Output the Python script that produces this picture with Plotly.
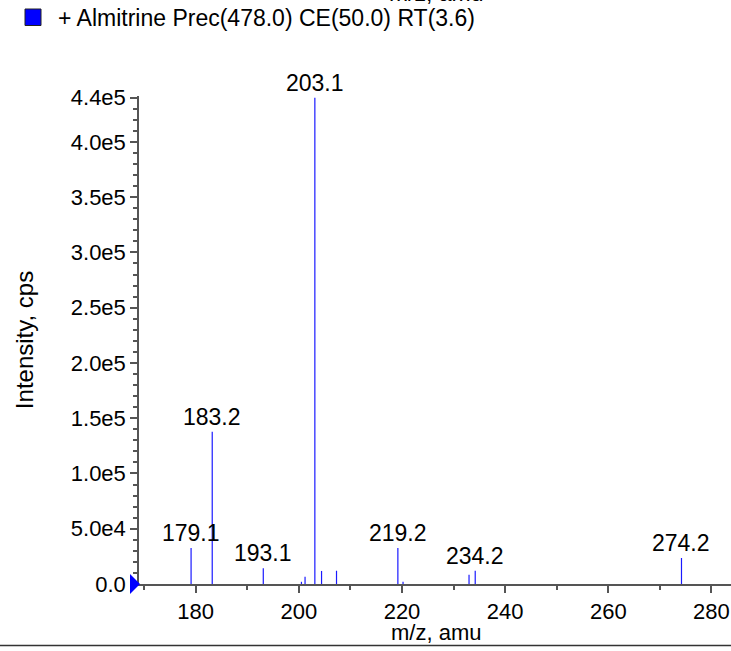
import plotly.graph_objects as go

# ---- data ----
peak_mz = [179.1, 183.2, 193.1, 200.5, 201.2, 203.1, 204.4, 207.3, 219.2, 220.2, 233.0, 234.2, 274.2]
peak_int = [32500, 137800, 14200, 2000, 6500, 440000, 11800, 12000, 32500, 2000, 8300, 12000, 23500]
label_mz = [179.1, 183.2, 193.1, 203.1, 219.2, 234.2, 274.2]
label_int = [32500, 137800, 14200, 440000, 32500, 12000, 23500]
label_text = ["179.1", "183.2", "193.1", "203.1", "219.2", "234.2", "274.2"]
y_tickvals = [0, 50000, 100000, 150000, 200000, 250000, 300000, 350000, 400000, 440000]
y_ticktext = ["0.0", "5.0e4", "1.0e5", "1.5e5", "2.0e5", "2.5e5", "3.0e5", "3.5e5", "4.0e5", "4.4e5"]
x_tickvals = [180, 200, 220, 240, 260, 280]
legend_text = "+ Almitrine Prec(478.0) CE(50.0) RT(3.6)"

W, H = 731, 651
L, R, T, B = 139, 0, 96, 67
PW, PH = W - L - R, H - T - B
XMIN, XMAX = 169.0, 283.8
YMAX = 441500

def px_x(p):
    return (p - L) / PW

def px_y(p):
    return (H - B - p) / PH

FONT = "Liberation Sans, Arial, Helvetica, sans-serif"
FS = 22

xs, ys = [], []
for m, v in zip(peak_mz, peak_int):
    xs += [m, m, None]
    ys += [0, v, None]

fig = go.Figure()
fig.add_trace(go.Scatter(x=xs, y=ys, mode="lines", line=dict(color="#1a1aff", width=1.2),
                         hoverinfo="skip", showlegend=False))

for m, v, t in zip(label_mz, label_int, label_text):
    fig.add_annotation(x=m, y=v, text=t, showarrow=False, yanchor="bottom", yshift=0,
                       font=dict(size=23, color="black", family=FONT))

# clipped title from previous panel
fig.add_annotation(xref="paper", yref="paper", x=px_x(436), y=px_y(8), text="m/z, amu",
                   showarrow=False, yanchor="bottom", xanchor="center",
                   font=dict(size=23, color="black", family=FONT))
# x axis title
fig.add_annotation(xref="paper", yref="paper", x=px_x(436), y=px_y(619), text="m/z, amu",
                   showarrow=False, yanchor="top", xanchor="center", borderpad=0,
                   font=dict(size=22, color="black", family=FONT))
# legend
fig.add_shape(type="rect", xref="paper", yref="paper", x0=px_x(25), x1=px_x(41),
              y0=px_y(25.5), y1=px_y(9), fillcolor="#0000ff", line=dict(color="#222222", width=1))
fig.add_annotation(xref="paper", yref="paper", x=px_x(56), y=px_y(18), text=legend_text,
                   showarrow=False, xanchor="left", yanchor="middle",
                   font=dict(size=23, color="black", family=FONT))
# bottom separator line
fig.add_shape(type="line", xref="paper", yref="paper", x0=px_x(0), x1=px_x(731),
              y0=px_y(645.5), y1=px_y(645.5), line=dict(color="#333333", width=1.5))
# blue triangle marker at y=0 on the left axis
fig.add_shape(type="path", xref="paper", yref="paper", xsizemode="pixel", ysizemode="pixel",
              xanchor=0, yanchor=0, path="M -9,-10 L 1,0 L -9,10 Z",
              fillcolor="#0000ff", line=dict(color="#0000ff", width=0), layer="above")

fig.update_layout(
    width=W, height=H,
    margin=dict(l=L, r=R, t=T, b=B, autoexpand=False),
    paper_bgcolor="white", plot_bgcolor="white",
    font=dict(family=FONT, size=FS, color="black"),
    xaxis=dict(range=[XMIN, XMAX], tickvals=x_tickvals, ticks="outside", ticklen=7,
               tickcolor="#555555", tickwidth=1.5, showline=True, linecolor="#555555",
               linewidth=1.5, showgrid=False, zeroline=False,
               tickfont=dict(size=FS, family=FONT),
               minor=dict(dtick=10, tick0=0, ticks="outside", ticklen=4, tickcolor="#555555")),
    yaxis=dict(range=[0, YMAX], tickvals=y_tickvals, ticktext=y_ticktext, ticks="outside",
               ticklen=7, tickcolor="#555555", tickwidth=1.5, showline=True,
               linecolor="#555555", linewidth=1.5, showgrid=False, zeroline=False,
               tickfont=dict(size=FS, family=FONT),
               minor=dict(dtick=10000, tick0=0, ticks="outside", ticklen=4, tickcolor="#555555"),
               title=dict(text="Intensity, cps", font=dict(size=24, family=FONT), standoff=30)),
)

fig.write_html("out.html", config={"displayModeBar": False},
               post_script="document.body.style.margin='0';")
